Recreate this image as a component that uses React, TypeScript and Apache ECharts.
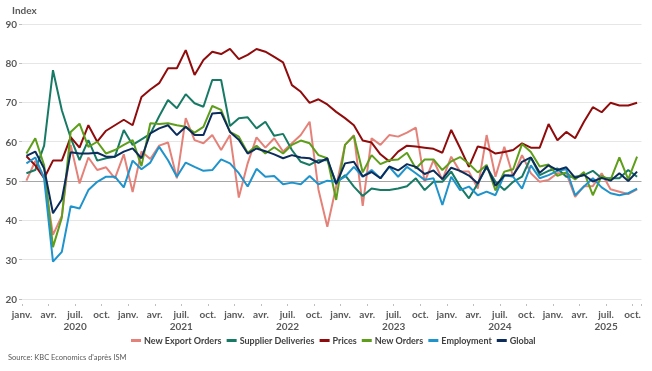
import React, { useEffect, useRef } from 'react';
import * as echarts from 'echarts';

const seriesNames = ['New Export Orders', 'Supplier Deliveries', 'Prices', 'New Orders', 'Employment', 'Global'];
const seriesColors = ['#E4827A', '#177A65', '#900C0C', '#5E9E1A', '#1F93CB', '#0C2D5C'];
const monthTickLabels = ['janv.', 'avr.', 'juil.', 'oct.'];
const startYear = 2020;
const monthCount = 70;

// Jan 2020 -> Oct 2025, monthly
const newExportOrders = [
  50.1, 55.1, 51.1, 36.3, 41.1, 59.2, 49.4, 56.0, 52.8, 53.5, 50.7, 56.8,
  47.2, 57.5, 55.6, 59.0, 59.8, 50.7, 66.0, 60.4, 59.6, 61.7, 57.9, 61.7,
  45.8, 54.5, 61.1, 58.5, 60.9, 57.5, 59.6, 61.7, 65.1, 47.8, 38.4, 48.6,
  59.2, 61.7, 43.7, 60.9, 59.2, 61.7, 61.3, 62.3, 63.6, 49.8, 55.3, 50.3,
  56.2, 52.4, 52.4, 48.1, 61.7, 51.1, 58.7, 51.1, 56.6, 52.0, 49.8, 50.3,
  52.0, 52.0, 46.0, 48.7, 48.7, 52.0, 47.9, 47.3, 46.7, 47.9,
];
const supplierDeliveries = [
  52.0, 52.8, 59.0, 78.2, 68.0, 61.0, 55.3, 60.4, 55.2, 55.8, 56.2, 63.0,
  59.2, 60.6, 62.0, 66.5, 70.6, 68.5, 72.1, 69.8, 68.9, 75.7, 75.7, 64.0,
  66.0, 66.2, 63.4, 65.1, 61.5, 62.0, 57.9, 54.9, 54.1, 55.3, 55.3, 49.6,
  51.5, 48.6, 46.2, 48.1, 47.7, 47.7, 48.1, 48.7, 50.7, 47.7, 49.8, 49.8,
  52.4, 48.6, 45.6, 49.4, 53.6, 49.8, 47.7, 49.8, 51.1, 56.0, 51.5, 52.6,
  53.2, 51.1, 51.1, 51.5, 52.6, 50.7, 50.7, 50.7, 52.8, 51.1,
];
const prices = [
  56.3, 54.0, 50.7, 55.2, 55.2, 61.2, 58.5, 64.2, 60.0, 62.8, 64.2, 65.6,
  64.2, 71.4, 73.3, 74.9, 78.7, 78.7, 83.3, 77.0, 80.8, 82.9, 82.3, 83.6,
  81.0, 82.1, 83.6, 82.9, 81.6, 80.2, 74.4, 72.7, 69.9, 70.8, 69.5, 67.6,
  66.0, 64.2, 60.3, 59.8, 56.8, 55.0, 57.5, 59.0, 58.8, 58.5, 58.2, 57.2,
  63.0, 58.4, 53.6, 58.8, 58.3, 57.0, 57.4, 57.9, 59.6, 58.5, 58.5, 64.5,
  60.4, 62.5, 60.9, 65.1, 68.8, 67.5, 69.9, 69.2, 69.2, 69.9,
];
const newOrders = [
  57.0, 60.9, 54.0, 33.2, 40.7, 62.5, 64.6, 58.7, 60.0, 57.0, 57.9, 59.2,
  60.4, 53.8, 64.7, 64.5, 64.7, 64.2, 63.8, 62.3, 63.8, 69.1, 68.1, 62.5,
  61.3, 57.2, 59.0, 57.0, 58.6, 57.0, 59.2, 60.3, 59.6, 56.6, 55.8, 45.2,
  59.2, 61.5, 52.2, 56.6, 54.3, 55.3, 55.5, 57.2, 53.2, 55.5, 55.5, 52.8,
  55.0, 56.1, 54.4, 52.2, 54.1, 47.6, 52.4, 53.0, 59.4, 57.4, 53.7, 54.2,
  51.3, 52.2, 50.4, 52.3, 46.4, 51.3, 50.3, 56.0, 50.4, 56.2,
];
const employment = [
  54.5, 56.0, 50.7, 29.5, 32.0, 43.6, 43.0, 47.7, 49.8, 51.1, 51.1, 48.4,
  55.2, 53.0, 54.7, 58.7, 55.3, 51.1, 54.7, 53.6, 52.6, 52.8, 55.5, 54.5,
  52.0, 48.6, 53.1, 51.1, 51.3, 49.2, 49.6, 49.2, 51.3, 49.2, 50.1, 49.8,
  51.1, 53.6, 51.1, 52.8, 50.7, 53.6, 51.1, 53.6, 52.0, 50.3, 50.7, 43.9,
  51.1, 47.7, 48.6, 46.4, 47.3, 46.4, 51.5, 51.1, 48.1, 54.0, 50.7, 51.5,
  52.6, 53.0, 46.4, 48.6, 50.7, 48.4, 46.9, 46.4, 46.9, 48.1,
];
const globalIndex = [
  56.4, 57.5, 53.2, 41.8, 45.3, 57.3, 57.0, 57.0, 57.2, 56.2, 56.2, 57.5,
  58.3, 55.8, 62.1, 63.4, 64.2, 61.7, 63.8, 61.7, 61.7, 67.2, 67.4, 62.5,
  60.5, 57.0, 58.3, 57.6, 56.8, 55.8, 56.6, 56.0, 55.8, 54.6, 55.8, 49.2,
  54.5, 54.9, 51.2, 52.3, 50.7, 53.7, 52.7, 54.3, 53.6, 51.8, 52.7, 50.5,
  53.4, 52.6, 51.4, 49.4, 53.8, 48.8, 51.4, 51.5, 54.9, 56.0, 52.1, 54.0,
  52.8, 53.5, 50.8, 51.6, 49.9, 50.8, 50.1, 52.0, 50.0, 52.4,
];

const allSeries = [newExportOrders, supplierDeliveries, prices, newOrders, employment, globalIndex];

const FONT = 'Lato, "Open Sans", sans-serif';

export default function App() {
  const ref = useRef<HTMLDivElement>(null);
  useEffect(() => {
    if (!ref.current) return;
    const chart = echarts.init(ref.current, null, { renderer: 'svg' });
    const gridColors = ['#e6e6e6', '#e6e6e6', '#e6e6e6', '#a6a6a6', '#e6e6e6', '#e6e6e6', '#e6e6e6', '#e6e6e6'];
    chart.setOption({
      animation: false,
      grid: { left: 22, right: 10.5, top: 23.8, bottom: 72, containLabel: false },
      xAxis: {
        type: 'value',
        min: 0,
        max: monthCount,
        interval: 3,
        offset: 5,
        axisLine: { show: false },
        axisTick: { show: true, length: 2, lineStyle: { color: '#bfbfbf' } },
        splitLine: { show: false },
        axisLabel: {
          margin: 4,
          fontSize: 10,
          fontWeight: 'bold',
          color: '#595959',
          fontFamily: FONT,
          lineHeight: 12,
          formatter: (v: number) => {
            const idx = Math.round(v);
            if (idx >= monthCount) return '';
            const m = idx % 12;
            const label = monthTickLabels[m / 3];
            if (m === 6) return label + '\n' + (startYear + Math.floor(idx / 12));
            return label;
          },
        },
      },
      yAxis: {
        type: 'value',
        min: 20,
        max: 90,
        interval: 10,
        axisLine: { show: false },
        axisTick: { show: true, length: 3, lineStyle: { color: '#bfbfbf' } },
        axisLabel: { margin: 5, fontSize: 10, fontWeight: 'bold', color: '#595959', fontFamily: FONT },
        splitLine: { show: true, lineStyle: { color: gridColors, width: 1 } },
      },
      legend: {
        left: 131,
        top: 336,
        padding: 0,
        icon: 'rect',
        itemWidth: 10,
        itemHeight: 3,
        itemGap: 5,
        textStyle: { fontSize: 9, fontWeight: 'bold', color: '#404040', fontFamily: FONT, padding: [0, 0, 0, -2] },
        data: seriesNames,
      },
      graphic: [
        {
          type: 'text',
          left: 12,
          top: 5,
          style: { text: 'Index', fontSize: 10, fontWeight: 'bold', fill: '#595959', fontFamily: FONT },
        },
        {
          type: 'text',
          left: 8,
          top: 353,
          style: { text: "Source: KBC Economics d'après ISM", fontSize: 7.5, fill: '#595959', fontFamily: FONT },
        },
      ],
      series: allSeries.map((arr, k) => ({
        name: seriesNames[k],
        type: 'line',
        data: arr.map((v, i) => [i + 0.5, v]),
        symbol: 'none',
        lineStyle: { width: 2, color: seriesColors[k] },
        itemStyle: { color: seriesColors[k] },
        z: 2 + k,
      })),
    });
    return () => chart.dispose();
  }, []);
  return <div ref={ref} style={{ position: 'fixed', left: 0, top: 0, width: 652, height: 371 }} />;
}
